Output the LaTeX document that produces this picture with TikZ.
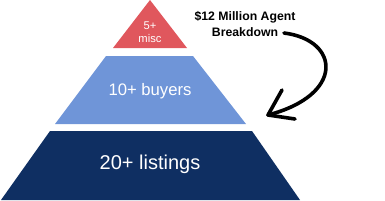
\documentclass[tikz,border=0pt]{standalone}
\usepackage{fontspec}
\setmainfont{Liberation Sans}
\definecolor{miscred}{RGB}{224,87,93}
\definecolor{buyerblue}{RGB}{111,149,216}
\definecolor{listnavy}{RGB}{15,47,98}

\begin{document}
\begin{tikzpicture}[x=0.75pt, y=-0.75pt]
    \useasboundingbox (0,0) rectangle (385,200);

    % Pyramid levels
    \fill[listnavy] (1,200) -- (300,200) -- (252,131) -- (50,131) -- cycle;
    \fill[buyerblue] (55,124) -- (246,124) -- (193,56) -- (106,56) -- cycle;
    \fill[miscred] (113,48) -- (187,48) -- (150,0) -- cycle;

    % Level labels
    \node[white, font=\fontsize{15}{17}\selectfont] (listings) at (150,164) {20+ listings};
    \node[white, font=\fontsize{12.5}{14}\selectfont] (buyers) at (150,91) {10+ buyers};
    \node[white, font=\fontsize{8.4}{9.5}\selectfont, align=center] (misc) at (150,32) {5+\\misc};

    % Title and arrow
    \node[font=\bfseries\fontsize{9.2}{11.5}\selectfont, align=center] (title) at (245,24) {\$12 Million Agent\\Breakdown};
    \coordinate (start) at (284,33);
    \coordinate (tip) at (268,115);
    \draw[black, line width=2.7pt, line cap=round] (start) .. controls (340,40) and (345,95) .. (tip);
    \draw[black, line width=2.7pt, line cap=round, line join=round] (282,90) -- (tip) -- (295,119);
\end{tikzpicture}
\end{document}
